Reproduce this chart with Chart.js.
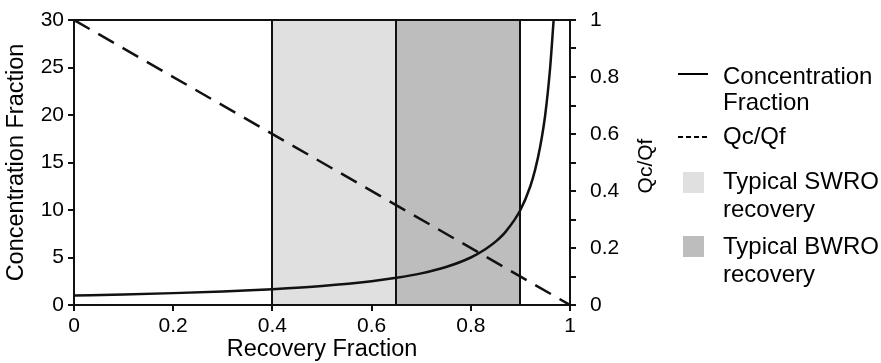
<!DOCTYPE html>
<html>
<head>
<meta charset="utf-8">
<script src="https://cdn.jsdelivr.net/npm/chart.js@4/dist/chart.umd.min.js"></script>
<style>
  body { margin: 0; overflow: hidden; background: #fff; font-family: "Liberation Sans", Arial, sans-serif; }
  #wrap { position: relative; width: 881px; height: 363px; overflow: hidden; }
  .lg { position: absolute; left: 723px; font-size: 24px; line-height: 26px; color: #000; white-space: nowrap; }
  .sw { position: absolute; left: 683px; width: 21px; height: 21px; }
  #rtitle { position: absolute; left: 645px; top: 166px; font-size: 21px; line-height: 24px; color: #000;
            transform: translate(-50%, -50%) rotate(-90deg); white-space: nowrap; }
</style>
</head>
<body>
<div id="wrap">
  <canvas id="chart" width="881" height="363"></canvas>
  <div id="rtitle">Qc/Qf</div>

  <div style="position:absolute;left:678px;top:73px;width:30px;height:2px;background:#000"></div>
  <div class="lg" style="top:63px">Concentration</div>
  <div class="lg" style="top:89px">Fraction</div>

  <div style="position:absolute;left:678px;top:136px;width:30px;height:2px;background:repeating-linear-gradient(90deg,#000 0 5px,transparent 5px 8px)"></div>
  <div class="lg" style="top:123px">Qc/Qf</div>

  <div class="sw" style="top:172px;background:#e0e0e0"></div>
  <div class="lg" style="top:168px">Typical SWRO</div>
  <div class="lg" style="top:196px">recovery</div>

  <div class="sw" style="top:236px;background:#bdbdbd"></div>
  <div class="lg" style="top:233px">Typical BWRO</div>
  <div class="lg" style="top:261px">recovery</div>
</div>
<script>
// values
const recovery = [0, 0.1, 0.2, 0.3, 0.4, 0.5, 0.6, 0.65, 0.7, 0.75, 0.8, 0.83, 0.85, 0.87, 0.9, 0.92, 0.93, 0.94, 0.95, 0.96, 0.967];
const concFraction = [1, 1.11, 1.25, 1.43, 1.67, 2, 2.5, 2.86, 3.33, 4, 5, 5.9, 6.67, 7.7, 10, 12.5, 14.3, 16.7, 20, 25, 30];
const qcqfX = [0, 1];
const qcqfY = [1, 0];
const swroRange = [0.4, 0.65];
const bwroRange = [0.65, 0.9];
const regionColors = ["#e0e0e0", "#bdbdbd"];

Chart.defaults.font.family = '"Liberation Sans", Arial, sans-serif';
Chart.defaults.color = "#000";

// shaded recovery bands + their edge lines
const bandsPlugin = {
  id: "bands",
  beforeDatasetsDraw(chart) {
    const { ctx, chartArea, scales } = chart;
    const x = scales.x;
    [swroRange, bwroRange].forEach((r, i) => {
      const x0 = x.getPixelForValue(r[0]);
      const x1 = x.getPixelForValue(r[1]);
      ctx.fillStyle = regionColors[i];
      ctx.fillRect(x0, chartArea.top + 1, x1 - x0, chartArea.bottom - chartArea.top - 2);
    });
    ctx.save();
    ctx.strokeStyle = "#111";
    ctx.lineWidth = 2;
    [swroRange[0], swroRange[1], bwroRange[1]].forEach(v => {
      const px = Math.round(x.getPixelForValue(v));
      ctx.beginPath();
      ctx.moveTo(px, chartArea.top);
      ctx.lineTo(px, chartArea.bottom);
      ctx.stroke();
    });
    ctx.restore();
  },
  afterDraw(chart) {
    const { ctx, chartArea } = chart;
    ctx.save();
    ctx.strokeStyle = "#111";
    ctx.lineWidth = 2;
    ctx.beginPath();
    ctx.moveTo(chartArea.left - 1, chartArea.top);
    ctx.lineTo(chartArea.right + 1, chartArea.top);
    ctx.stroke();
    ctx.restore();
  }
};

const axisGrid = { drawOnChartArea: false, drawTicks: true, tickLength: 6, color: "#111", lineWidth: 2 };
const axisBorder = { display: true, color: "#111", width: 2 };
const fmt = v => String(Math.round(v * 10) / 10);

new Chart(document.getElementById("chart"), {
  type: "line",
  data: {
    datasets: [
      {
        label: "Concentration Fraction",
        data: recovery.map((r, i) => ({ x: r, y: concFraction[i] })),
        borderColor: "#111",
        borderWidth: 2.5,
        pointRadius: 0,
        cubicInterpolationMode: "monotone",
        yAxisID: "y"
      },
      {
        label: "Qc/Qf",
        data: qcqfX.map((r, i) => ({ x: r, y: qcqfY[i] })),
        borderColor: "#111",
        borderWidth: 2.5,
        borderDash: [18, 10],
        pointRadius: 0,
        yAxisID: "y1"
      }
    ]
  },
  options: {
    responsive: false,
    animation: false,
    layout: { padding: { top: 20, left: 0, right: 0, bottom: 0 } },
    plugins: { legend: { display: false }, tooltip: { enabled: false } },
    scales: {
      x: {
        type: "linear",
        min: 0,
        max: 1,
        ticks: { stepSize: 0.2, font: { size: 21 }, color: "#000", padding: 3, callback: fmt },
        grid: axisGrid,
        border: axisBorder,
        title: { display: true, text: "Recovery Fraction", font: { size: 23.5 }, color: "#000", padding: { top: 0, bottom: -1 } },
        afterFit: s => { s.height = 58; }
      },
      y: {
        min: 0,
        max: 30,
        ticks: { stepSize: 5, font: { size: 21 }, color: "#000", padding: 4 },
        grid: axisGrid,
        border: axisBorder,
        title: { display: true, text: "Concentration Fraction", font: { size: 23.5 }, color: "#000", padding: { top: 2, bottom: 0 } },
        afterFit: s => { s.width = 74; s.paddingTop = 0; s.paddingBottom = 0; }
      },
      y1: {
        position: "right",
        min: 0,
        max: 1,
        ticks: {
          stepSize: 0.1,
          font: { size: 21 },
          color: "#000",
          padding: 14,
          callback: v => (Math.round(v * 10) % 2 === 0 ? fmt(v) : "")
        },
        grid: axisGrid,
        border: axisBorder,
        afterFit: s => { s.width = 311; s.paddingTop = 0; s.paddingBottom = 0; }
      }
    }
  },
  plugins: [bandsPlugin]
});
</script>
</body>
</html>
